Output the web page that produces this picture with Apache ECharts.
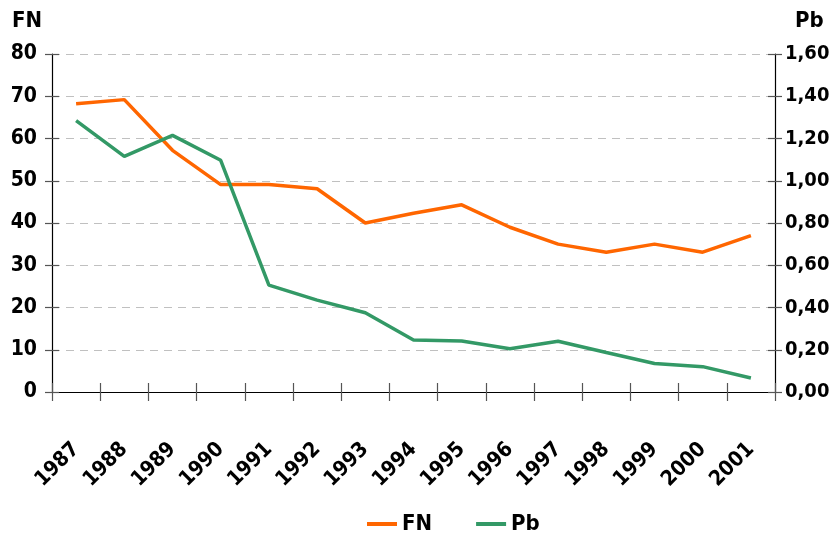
<!DOCTYPE html>
<html><head><meta charset="utf-8">
<script src="https://cdn.jsdelivr.net/npm/echarts@6/dist/echarts.min.js"></script>
<style>html,body{margin:0;padding:0;background:#fff}#c{width:834px;height:539px}</style>
</head><body><div id="c"></div>
<script>
var years = ['1987','1988','1989','1990','1991','1992','1993','1994','1995','1996','1997','1998','1999','2000','2001'];
var fnValues = [68.2, 69.2, 57.2, 49.1, 49.1, 48.1, 40.0, 42.3, 44.3, 39.0, 35.0, 33.1, 35.0, 33.1, 37.0];
var pbValues = [1.285, 1.115, 1.215, 1.097, 0.506, 0.435, 0.375, 0.246, 0.241, 0.205, 0.240, 0.187, 0.135, 0.120, 0.066];
var fnTicks = {min: 0, max: 80, interval: 10};
var pbTicks = {min: 0, max: 1.6, interval: 0.2};

var FONT = '"DejaVu Sans Condensed", "Liberation Sans Narrow", sans-serif';
var chart = echarts.init(document.getElementById('c'));
var labelStyle = {fontFamily: FONT, fontWeight: 'bold', fontSize: 21, color: '#000'};
chart.setOption({
  animation: false,
  grid: {left: 52, right: 59, top: 54, bottom: 147, containLabel: false, outerBoundsMode: 'none'},
  legend: {
    top: 508, left: 362, itemGap: 44, itemWidth: 30, itemHeight: 4,
    icon: 'rect',
    textStyle: {fontFamily: FONT, fontWeight: 'bold', fontSize: 22, color: '#000'},
    data: ['FN', 'Pb']
  },
  xAxis: [{
    type: 'category', data: years, boundaryGap: true,
    axisLine: {onZero: false, lineStyle: {color: '#000', width: 1.2}},
    axisTick: {show: true, length: 9, lineStyle: {color: '#555', width: 1.2}},
    axisLabel: {rotate: 45, margin: 54, fontSize: 21, fontFamily: FONT, fontWeight: 'bold', color: '#000'},
    splitLine: {show: false}
  }, {
    type: 'category', data: years, boundaryGap: true, position: 'bottom', gridIndex: 0,
    axisLine: {show: false},
    axisTick: {show: true, inside: true, length: 9, lineStyle: {color: '#555', width: 1.2}},
    axisLabel: {show: false}, splitLine: {show: false}
  }],
  yAxis: [{
    type: 'value', name: 'FN', position: 'left',
    min: fnTicks.min, max: fnTicks.max, interval: fnTicks.interval,
    nameLocation: 'end', nameGap: 22,
    nameTextStyle: {fontFamily: FONT, fontWeight: 'bold', fontSize: 22, color: '#000', align: 'right', padding: [0, 10, 0, 0]},
    axisLine: {show: true, lineStyle: {color: '#000', width: 1.2}},
    axisTick: {show: true, length: 7, lineStyle: {color: '#555', width: 1.2}},
    axisLabel: Object.assign({margin: 15}, labelStyle),
    splitLine: {show: true, lineStyle: {color: '#c0c0c0', type: [8, 6], width: 1}}
  }, {
    type: 'value', name: 'Pb', position: 'right',
    min: pbTicks.min, max: pbTicks.max, interval: pbTicks.interval,
    nameLocation: 'end', nameGap: 22,
    nameTextStyle: {fontFamily: FONT, fontWeight: 'bold', fontSize: 22, color: '#000', align: 'left', padding: [0, 0, 0, 20]},
    axisLine: {show: true, lineStyle: {color: '#000', width: 1.2}},
    axisTick: {show: true, length: 7, lineStyle: {color: '#555', width: 1.2}},
    axisLabel: Object.assign({}, labelStyle, {margin: 10, fontSize: 20, formatter: function(v){ return v.toFixed(2).replace('.', ','); }}),
    splitLine: {show: false}
  }, {
    type: 'value', position: 'left', offset: 0,
    min: fnTicks.min, max: fnTicks.max, interval: fnTicks.interval,
    axisLine: {show: false},
    axisTick: {show: true, inside: true, length: 7, lineStyle: {color: '#555', width: 1.2}},
    axisLabel: {show: false}, splitLine: {show: false}
  }, {
    type: 'value', position: 'right', offset: 0,
    min: pbTicks.min, max: pbTicks.max, interval: pbTicks.interval,
    axisLine: {show: false},
    axisTick: {show: true, inside: true, length: 7, lineStyle: {color: '#555', width: 1.2}},
    axisLabel: {show: false}, splitLine: {show: false}
  }],
  series: [{
    name: 'FN', type: 'line', data: fnValues, yAxisIndex: 0, xAxisIndex: 0,
    symbol: 'none', color: '#FF6600', lineStyle: {width: 3.5, color: '#FF6600'}
  }, {
    name: 'Pb', type: 'line', data: pbValues, yAxisIndex: 1, xAxisIndex: 0,
    symbol: 'none', color: '#339966', lineStyle: {width: 3.5, color: '#339966'}
  }]
});
</script></body></html>
